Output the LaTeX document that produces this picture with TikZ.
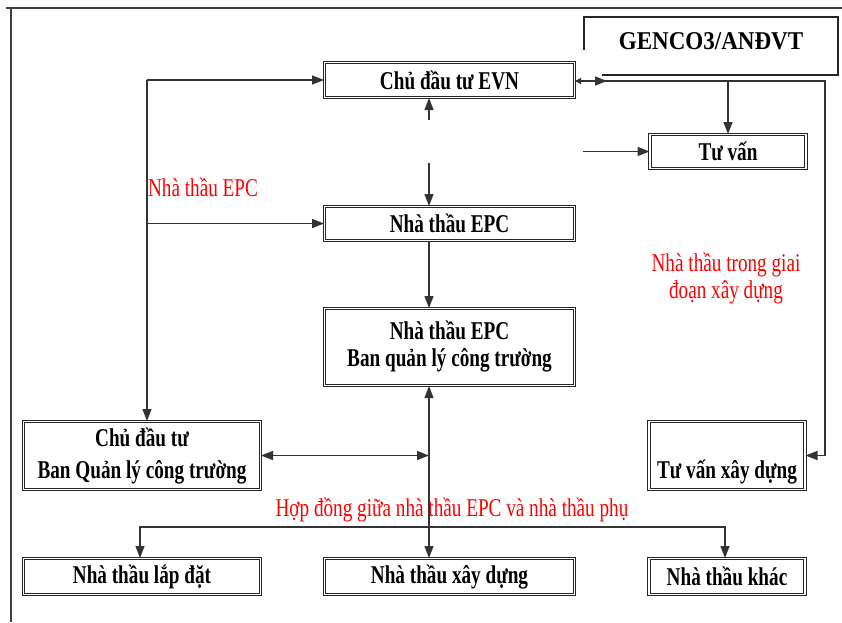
\documentclass[tikz,border=0pt]{standalone}
\usepackage{fontspec}
\setmainfont{Liberation Serif}[FakeStretch=0.75]
\newfontfamily\gencofont{Liberation Serif}[FakeStretch=0.9]
\usetikzlibrary{arrows.meta,calc}

\begin{document}
\begin{tikzpicture}[x=1pt, y=-1pt,
  font=\fontsize{25.6}{27}\selectfont\bfseries,
  every node/.style={align=center},
  box/.style={draw=black!85, double, double distance=1.8pt, line width=1pt, fill=white, inner sep=0pt},
  widebox/.style={box, minimum width=250pt},
  sidebox/.style={box, minimum width=237pt},
  farbox/.style={box, minimum width=156pt},
  link/.style={draw=black!80, line width=1.3pt},
  tip/.style={-{Triangle[length=12pt,width=9pt]}},
  tips/.style={{Triangle[length=12pt,width=9pt]}-{Triangle[length=12pt,width=9pt]}},
  note/.style={text=red, font=\fontsize{25.6}{27}\selectfont\mdseries}]
  \useasboundingbox (0,0) rectangle (842,622);
  % frame
  \draw[black!75, line width=1.5pt] (6,8) -- (842,8);
  \draw[black!75, line width=1.5pt] (11,8) -- (11,622);

  \node[font=\gencofont\fontsize{25.6}{27}\selectfont\bfseries] (genco) at (711,41) {GENCO3/ANĐVT};
  \draw[black!85, line width=1.3pt] (584,50) -- (584,17) -- (838,17) -- (838,75) -- (602,75);

  \node[widebox, minimum height=35pt] (evn) at (449.5,80) {Chủ đầu tư EVN};
  \node[farbox, minimum height=34pt] (tuvan) at (728,151.5) {Tư vấn};
  \node[widebox, minimum height=34pt] (epc) at (449.5,223.5) {Nhà thầu EPC};
  \node[widebox, minimum height=77pt] (bql) at (449.5,347) {Nhà thầu EPC\\Ban quản lý công trường};
  \node[sidebox, minimum height=68pt] (cdt) at (142,455.5) {Chủ đầu tư\\[5pt]Ban Quản lý công trường};
  \node[farbox, minimum height=68pt] (tvxd) at (727,455.5) {\strut\\[5pt]Tư vấn xây dựng};
  \node[sidebox, minimum height=36pt] (ld) at (142,576.5) {Nhà thầu lắp đặt};
  \node[widebox, minimum height=36pt] (xd) at (449.5,576.5) {Nhà thầu xây dựng};
  \node[farbox, minimum height=36pt] (khac) at (727,576.5) {Nhà thầu khác};

  \node[note] (lblepc) at (203,187) {Nhà thầu EPC};
  \node[note] (lblphase) at (726,278) {Nhà thầu trong giai\\đoạn xây dựng};
  \node[note] (lblsub) at (452,510) {Hợp đồng giữa nhà thầu EPC và nhà thầu phụ};

  % left trunk
  \coordinate (trunk) at (147,80);
  \draw[link, tip] (trunk) -- (evn.west);
  \draw[link, tip] (trunk |- epc.west) -- (epc.west);
  \draw[link, tip] (trunk) -- (trunk |- cdt.north);

  % middle axis
  \coordinate (up) at (429,120);
  \coordinate (down) at (429,163);
  \draw[link, tip] (up) -- (up |- evn.south);
  \draw[link, tip] (down) -- (down |- epc.north);
  \draw[link, tip] (epc.south -| up) -- (bql.north -| up);
  \draw[link, tips] (bql.south -| up) -- (xd.north -| up);
  \draw[link, tips] (cdt.east) -- (cdt.east -| up);

  % sub-contracts
  \coordinate (bus) at (429,527);
  \draw[link, tip] (bus) -| ([xshift=-2pt]ld.north);
  \draw[link, tip] (bus) -| ([xshift=-2pt]khac.north);

  % right side
  \coordinate (gate) at (589,81);
  \coordinate (feed) at (607,81);
  \coordinate (rail) at (825,81);
  \coordinate (adv) at (583,151.5);
  \draw[link, -{Triangle[length=6pt,width=6pt]}] (gate) -- (evn.east |- gate);
  \draw[link, tip] (gate) -- (feed);
  \draw[link, tip] (gate) -- (rail) |- (tvxd.east);
  \draw[link, tip] (tuvan.north |- rail) -- (tuvan.north);
  \draw[link, tip] (adv) -- (tuvan.west);
\end{tikzpicture}
\end{document}
